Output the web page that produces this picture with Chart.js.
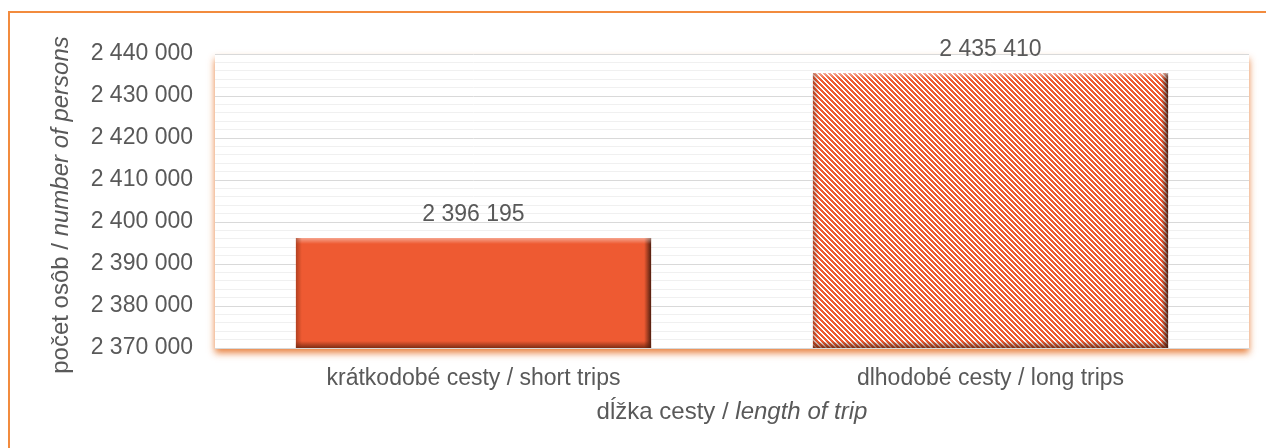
<!DOCTYPE html>
<html>
<head>
<meta charset="utf-8">
<script src="https://cdn.jsdelivr.net/npm/chart.js@4.4.1/dist/chart.umd.min.js"></script>
<style>
  html, body { margin:0; padding:0; background:#fff; }
  #wrap { position:relative; width:1266px; height:448px; overflow:hidden; }
  #frame { position:absolute; left:8px; top:11px; width:1300px; height:500px;
           border-top:2px solid #F28B3E; border-left:2px solid #F28B3E; }
  #myChart { position:absolute; left:0; top:0; }
</style>
</head>
<body>
<div id="wrap">
  <div id="frame"></div>
  <canvas id="myChart" width="1266" height="448"></canvas>
</div>
<script>
var categories = ["krátkodobé cesty / short trips", "dlhodobé cesty / long trips"];
var persons = [2396195, 2435410];
var yMin = 2370000, yMax = 2440000, yMinorStep = 2000, yMajorStep = 10000;

var orange = '#EE5A32';
var textColor = '#595959';
var fontFamily = '"Liberation Sans", Arial, sans-serif';

function fmt(v){
    return String(Math.round(v)).replace(/\B(?=(\d{3})+(?!\d))/g, ' ');
}

// diagonal stripes for the second bar
function stripes(){
    var c = document.createElement('canvas');
    c.width = 5; c.height = 5;
    var g = c.getContext('2d');
    g.fillStyle = '#fff';
    g.fillRect(0,0,5,5);
    g.fillStyle = orange;
    for (var x=0; x<5; x++){
        for (var y=0; y<5; y++){
            var k = ((x - y) % 5 + 5) % 5;
            if (k < 3) g.fillRect(x,y,1,1);
        }
    }
    return document.getElementById('myChart').getContext('2d').createPattern(c,'repeat');
}

var plotBg = {
    id:'plotBg',
    beforeDraw:function(chart){
        var a = chart.chartArea, ctx = chart.ctx;
        ctx.save();
        ctx.shadowColor = 'rgba(228,108,30,0.85)';
        ctx.shadowBlur = 7;
        ctx.shadowOffsetY = 5;
        ctx.fillStyle = '#fff';
        ctx.fillRect(a.left, a.top, a.right-a.left, a.bottom-a.top);
        ctx.restore();
    }
};

var bevel = {
    id:'bevel',
    afterDatasetsDraw:function(chart){
        var ctx = chart.ctx, a = chart.chartArea;
        chart.getDatasetMeta(0).data.forEach(function(bar, i){
            var l = bar.x - bar.width/2, r = bar.x + bar.width/2, t = bar.y, b = Math.min(bar.base, a.bottom);
            ctx.save();
            var gr = ctx.createLinearGradient(r-7,0,r,0);
            gr.addColorStop(0,'rgba(70,25,10,0)');
            gr.addColorStop(1,'rgba(50,20,10,0.85)');
            ctx.fillStyle = gr;
            ctx.fillRect(r-7,t,7,b-t);
            var gb = ctx.createLinearGradient(0,b-7,0,b);
            gb.addColorStop(0,'rgba(90,30,10,0)');
            gb.addColorStop(1,'rgba(90,30,10,0.75)');
            ctx.fillStyle = gb;
            ctx.fillRect(l,b-7,r-l,7);
            var gt = ctx.createLinearGradient(0,t,0,t+6);
            gt.addColorStop(0,'rgba(255,255,255,0.45)');
            gt.addColorStop(1,'rgba(255,255,255,0)');
            ctx.fillStyle = gt;
            ctx.fillRect(l,t,r-l,6);
            var gl = ctx.createLinearGradient(l,0,l+6,0);
            gl.addColorStop(0,'rgba(120,40,15,0.5)');
            gl.addColorStop(1,'rgba(120,40,15,0)');
            ctx.fillStyle = gl;
            ctx.fillRect(l,t,6,b-t);
            // value label
            ctx.fillStyle = textColor;
            ctx.font = '23px ' + fontFamily;
            ctx.textAlign = 'center';
            ctx.textBaseline = 'alphabetic';
            ctx.fillText(fmt(persons[i]), bar.x, t - 17);
            ctx.restore();
        });
    }
};

// axis titles with an italic english part
function mixedText(ctx, parts, cx, cy){
    var total = 0;
    parts.forEach(function(p){ ctx.font = p[1] + '24px ' + fontFamily; total += ctx.measureText(p[0]).width; });
    var x = cx - total/2;
    parts.forEach(function(p){
        ctx.font = p[1] + '24px ' + fontFamily;
        ctx.fillText(p[0], x, cy);
        x += ctx.measureText(p[0]).width;
    });
}

var titles = {
    id:'titles',
    afterDraw:function(chart){
        var ctx = chart.ctx, a = chart.chartArea;
        ctx.save();
        ctx.fillStyle = textColor;
        ctx.textAlign = 'left';
        ctx.textBaseline = 'middle';
        mixedText(ctx, [['dĺžka cesty / ',''],['length of trip','italic ']], (a.left+a.right)/2, 412);
        ctx.translate(61, 205);
        ctx.rotate(-Math.PI/2);
        mixedText(ctx, [['počet osôb / ',''],['number of persons','italic ']], 0, 0);
        ctx.restore();
    }
};

var ctx = document.getElementById('myChart');
var myChart = new Chart(ctx, {
    type:'bar',
    data:{
        labels:categories,
        datasets:[{
            data:persons,
            backgroundColor:[orange, stripes()],
            borderWidth:0,
            categoryPercentage:1,
            barPercentage:0.687
        }]
    },
    options:{
        responsive:false,
        animation:false,
        layout:{ padding:{ left:0, top:54, right:17, bottom:0 } },
        plugins:{ legend:{ display:false }, tooltip:{ enabled:false } },
        scales:{
            x:{
                grid:{ display:false, drawTicks:false },
                border:{ display:true, color:'#d9d9d9', width:1 },
                ticks:{ color:textColor, font:{ family:fontFamily, size:23 }, padding:17 },
                afterFit:function(s){ s.height = 100; }
            },
            y:{
                min:yMin, max:yMax,
                grid:{
                    drawTicks:false,
                    color:function(c){ return c.tick && c.tick.value % yMajorStep === 0 ? '#d9d9d9' : '#f0f0f0'; },
                    lineWidth:1
                },
                border:{ display:false },
                ticks:{
                    stepSize:yMinorStep,
                    autoSkip:false,
                    color:textColor,
                    font:{ family:fontFamily, size:23 },
                    padding:22,
                    callback:function(v){ return v % yMajorStep === 0 ? fmt(v) : ''; }
                },
                afterFit:function(s){ s.width = 215; }
            }
        }
    },
    plugins:[plotBg, bevel, titles]
});
</script>
</body>
</html>
